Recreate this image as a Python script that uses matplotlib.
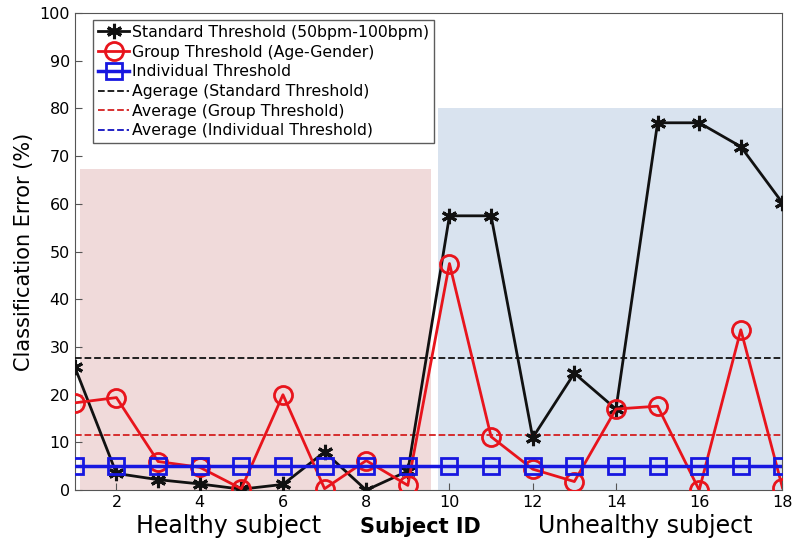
import numpy as np
import matplotlib.pyplot as plt

subjects = np.arange(1, 19)
standard = [25.8, 3.5, 2.2, 1.3, 0.2, 1.2, 8.0, 0.0, 4.0,
            57.5, 57.5, 11.0, 24.5, 17.0, 77.0, 77.0, 72.0, 60.2]
group = [18.3, 19.4, 6.0, 4.8, 0.3, 20.0, 0.3, 6.2, 1.0,
         47.5, 11.2, 4.4, 1.8, 17.0, 17.6, 0.0, 33.6, 0.5]
individual = [5] * 18

plt.rcParams['font.family'] = ['DejaVu Sans']
fig = plt.figure(figsize=(7.96, 5.44), dpi=100)
ax = fig.add_axes([0.094, 0.099, 0.889, 0.877])

# shaded groups
ax.fill_between([1.12, 9.55], 0, 67.3, color='#f0dada', zorder=0, lw=0)
ax.fill_between([9.72, 18], 0, 80, color='#d9e3ef', zorder=0, lw=0)

ax.plot(subjects, standard, '-', color='#111111', lw=2, marker=(6, 2, 0),
        ms=11, mew=2.2, label='Standard Threshold (50bpm-100bpm)', zorder=4)
ax.plot(subjects, group, '-o', color='#e8141c', lw=2, ms=13, mew=2,
        mfc='none', label='Group Threshold (Age-Gender)', zorder=5)
ax.plot(subjects, individual, '-s', color='#1717e0', lw=2.5, ms=11, mew=2,
        mfc='none', label='Individual Threshold', zorder=6)

ax.axhline(np.mean(standard), color='#111111', ls='--', lw=1.3,
           label='Agerage (Standard Threshold)', zorder=3)
ax.axhline(np.mean(group), color='#d42020', ls='--', lw=1.3,
           label='Average (Group Threshold)', zorder=3)
ax.axhline(np.mean(individual), color='#1010c0', ls='--', lw=1.3,
           label='Average (Individual Threshold)', zorder=3)

ax.set_xlim(1, 18)
ax.set_ylim(0, 100)
ax.set_xticks(range(2, 19, 2))
ax.set_yticks(range(0, 101, 10))
ax.tick_params(direction='in', labelsize=11.5, length=5, color='#555555')
for s in ax.spines.values():
    s.set_color('#555555')
ax.set_ylabel('Classification Error (%)', fontsize=15)

leg = ax.legend(loc='upper left', bbox_to_anchor=(0.026, 0.985), fontsize=11.3,
                frameon=True, fancybox=False, edgecolor='#333333',
                handlelength=2.0, handletextpad=0.2, borderpad=0.3,
                labelspacing=0.3, borderaxespad=0)
leg.get_frame().set_linewidth(1)

fig.text(0.287, 0.02, 'Healthy subject', fontsize=17, ha='center')
fig.text(0.528, 0.02, 'Subject ID', fontsize=15, ha='center', weight='bold')
fig.text(0.81, 0.02, 'Unhealthy subject', fontsize=17, ha='center')

fig.savefig('out.png', dpi=100)
